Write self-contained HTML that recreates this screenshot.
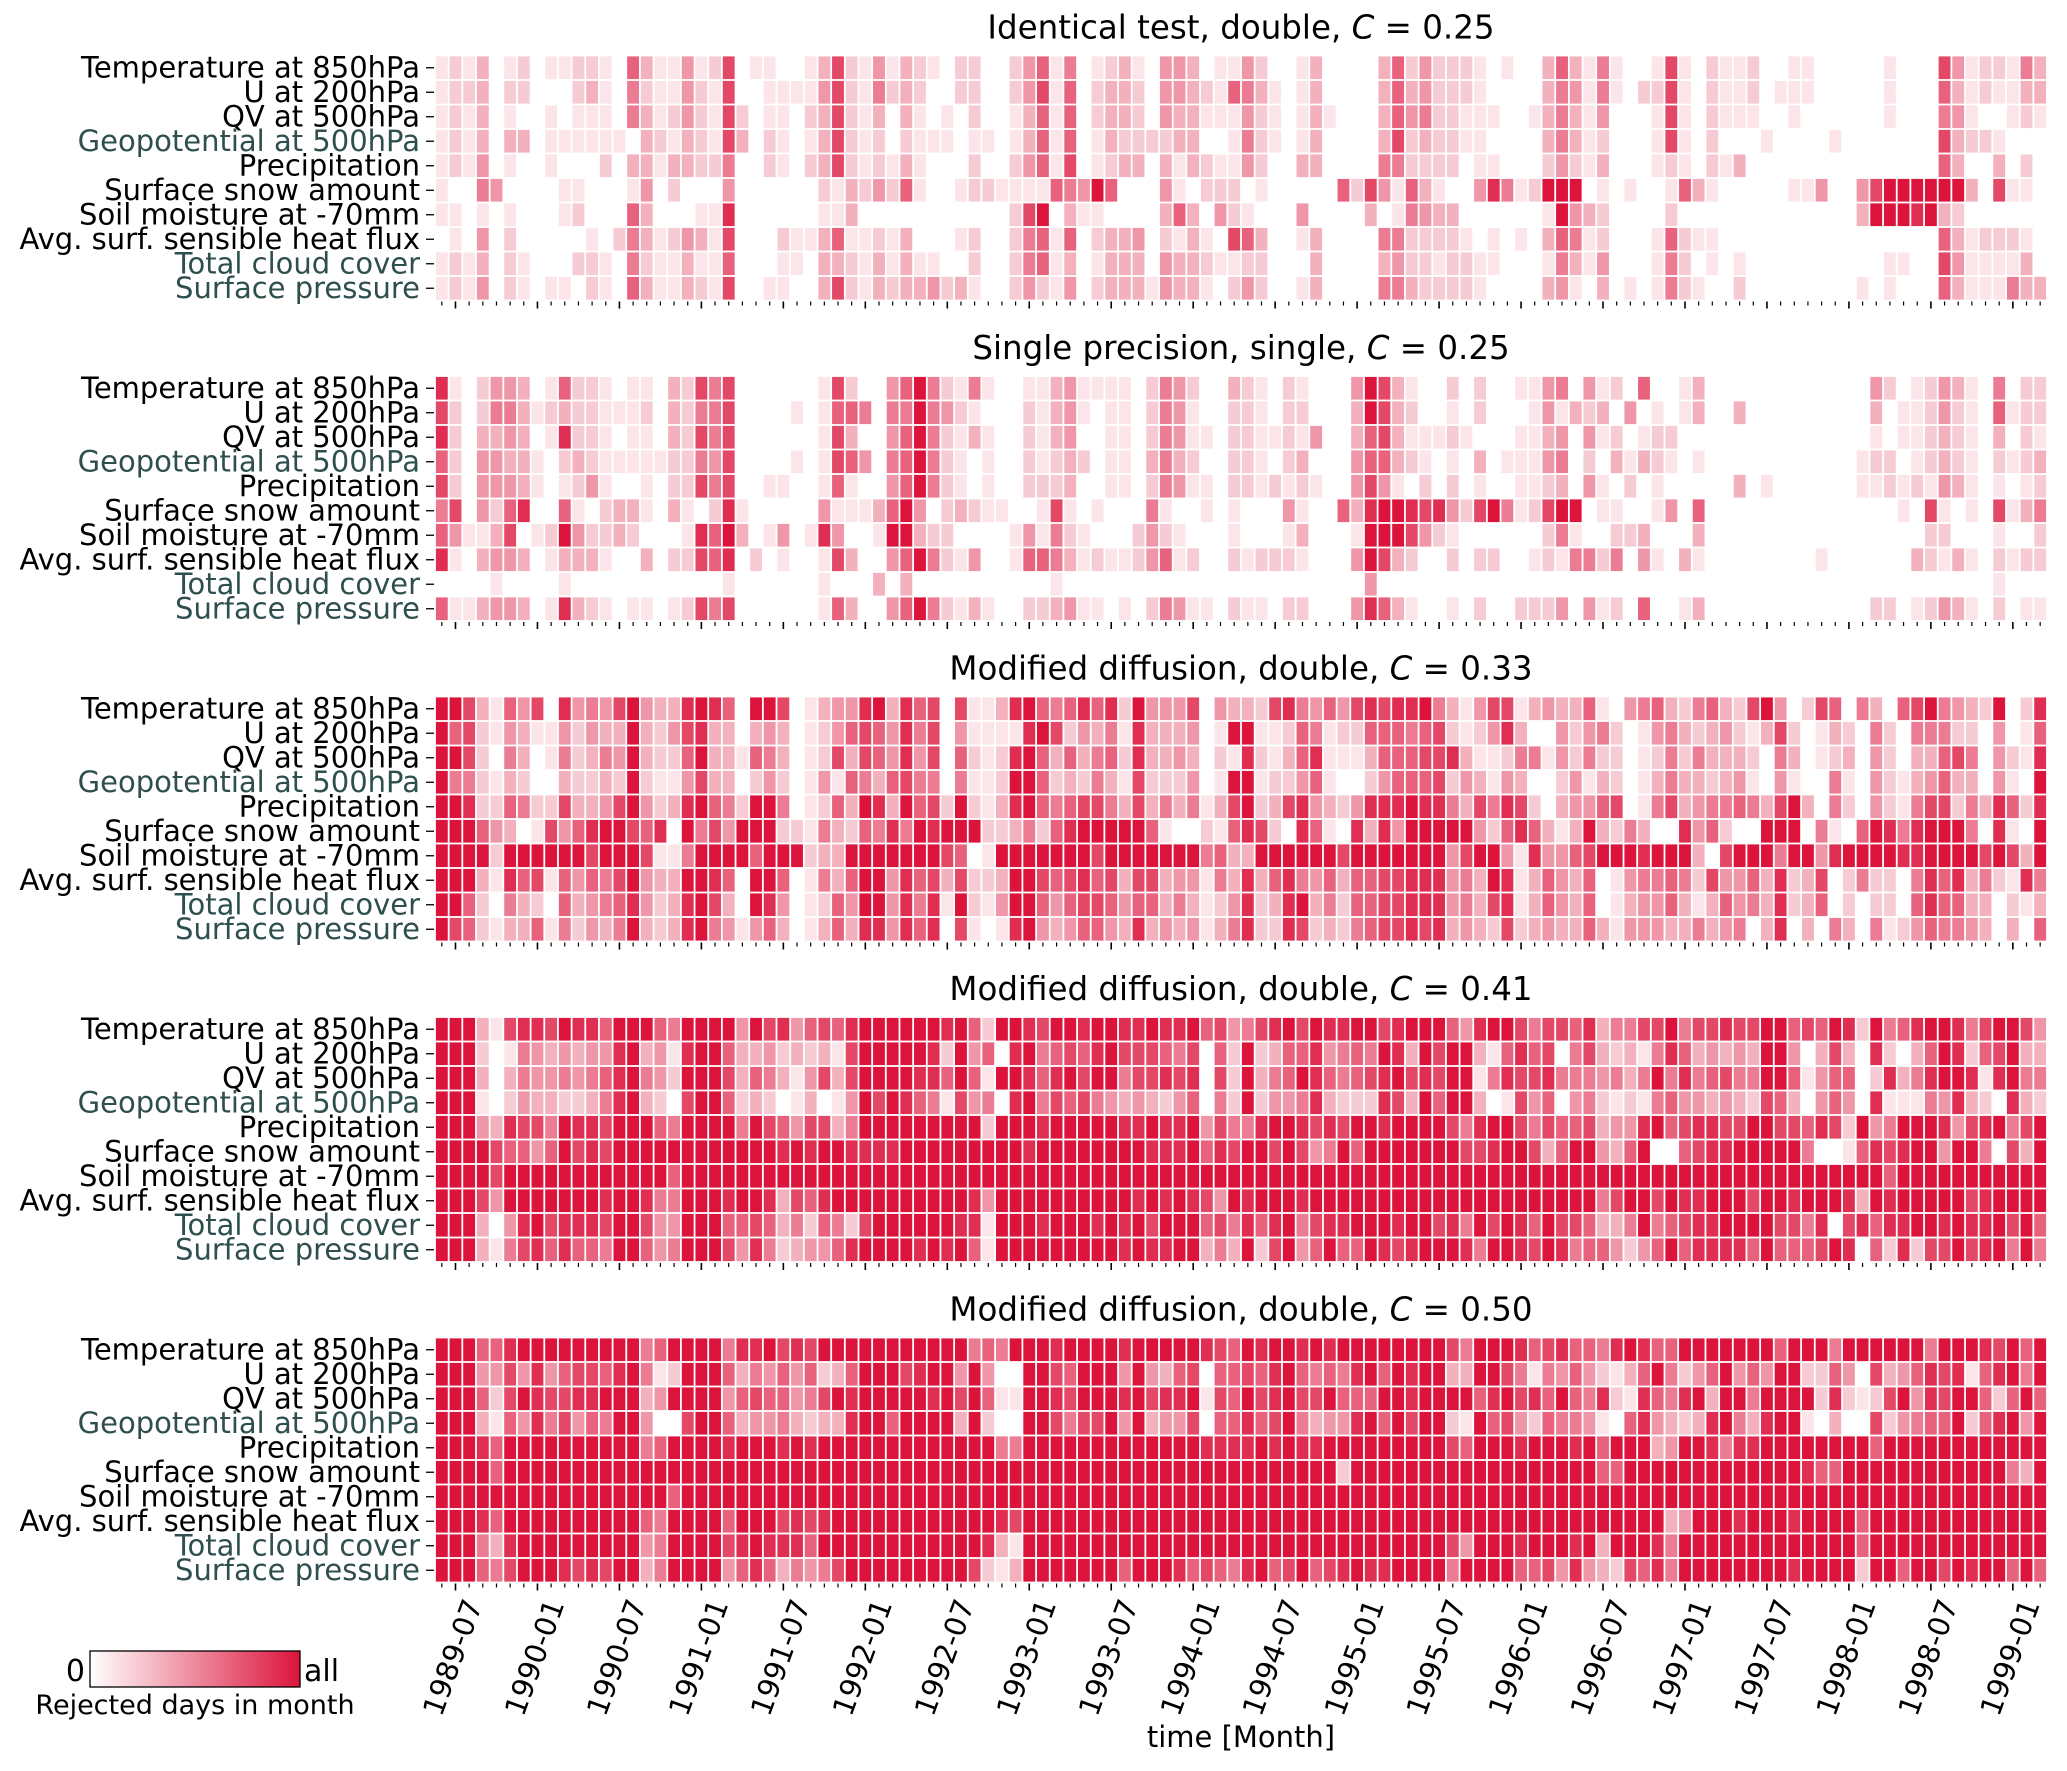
<!DOCTYPE html>
<html><head><meta charset="utf-8"><title>Rejected days heatmaps</title>
<style>
html,body{margin:0;padding:0;background:#fff;}
svg{display:block;font-family:"DejaVu Sans","Liberation Sans",sans-serif;}
</style></head>
<body>
<svg id="chart" width="2067" height="1771" viewBox="0 0 2067 1771" xmlns="http://www.w3.org/2000/svg"></svg>
<script>
const variables = ["Temperature at 850hPa","U at 200hPa","QV at 500hPa","Geopotential at 500hPa","Precipitation","Surface snow amount","Soil moisture at -70mm","Avg. surf. sensible heat flux","Total cloud cover","Surface pressure"];
const variableColors = ["#000","#000","#000","#2f4f4f","#000","#000","#000","#000","#2f4f4f","#2f4f4f"];
const panelTitles = ["Identical test, double, ","Single precision, single, ","Modified diffusion, double, ","Modified diffusion, double, ","Modified diffusion, double, "];
const panelC = ["0.25","0.25","0.33","0.41","0.50"];
const startYear = 1989, startMonth = 6, nMonths = 118;

const panel1Rows = [
"1213012011"+"2210631141"+"2701100137"+"2141321022"+"0024615012"+"310443011"+"4200130000"+"3624222101"+"0036315100"+"1710211200"+"1100000100"+"074122153",
"1223022000"+"2310521142"+"1700111147"+"2152320022"+"0024716023"+"320443216"+"5310130000"+"3634222100"+"0035415102"+"2710211201"+"1100000100"+"063121133",
"1213010010"+"1110531242"+"1720110237"+"2130310102"+"0013616023"+"320433111"+"4210131000"+"3645221110"+"0135314000"+"1710211100"+"1000000100"+"054100121",
"1213033011"+"1111032132"+"1730210137"+"2120211101"+"1013616013"+"222233001"+"5210130000"+"3723221100"+"0035312000"+"1710200010"+"0001000000"+"073221000",
"1214010010"+"0020331332"+"2500210237"+"2121310002"+"0024617012"+"330313211"+"4200330000"+"5522220110"+"0024213000"+"1210213000"+"0000000000"+"063003020",
"1005400001"+"1000140200"+"0400000021"+"3242610012"+"2111165496"+"000410222"+"0100000627"+"4163100485"+"1299901010"+"0163100000"+"1140047999"+"999307110",
"1101010001"+"2000630001"+"1800000011"+"3000000000"+"0027903110"+"000363042"+"1000400003"+"0154330000"+"0019432000"+"0200000000"+"0000039998"+"932000000",
"0104020000"+"0102531243"+"1700021136"+"1121300012"+"0025616023"+"340213107"+"6300130000"+"5522221010"+"1036512000"+"1621100000"+"0000000000"+"063122210",
"1213021000"+"2210521131"+"1600011033"+"2131311002"+"0025613013"+"330433211"+"2200030000"+"3422122110"+"0015314000"+"1520101000"+"0000000110"+"074111130",
"1214021011"+"0210631132"+"1700110037"+"2132334231"+"0024214023"+"331433102"+"4200130000"+"5532222100"+"0034103010"+"1521002000"+"0000010100"+"063111533"
];
const panel2Rows = [
"8102443016"+"2210110327"+"5700000017"+"2004695215"+"1001134111"+"102542003"+"2102100049"+"7310020200"+"1145041206"+"0013000000"+"0000004201"+"243105022",
"7202553123"+"2211120325"+"5700001016"+"6505595421"+"0002134101"+"102541002"+"2102200039"+"7320010200"+"0141323040"+"1013003000"+"0000003011"+"242106122",
"8203343018"+"2210110327"+"5700000017"+"3004695213"+"1002134001"+"102541102"+"2112140036"+"7311121000"+"1134041201"+"2200000000"+"0000001011"+"232103021",
"6204433102"+"3211111225"+"4700001017"+"6405695210"+"1002123201"+"103532002"+"2102300046"+"6321010301"+"1145020313"+"2101000000"+"0000012201"+"232102123",
"7204443101"+"2410010227"+"5700110016"+"1004695210"+"1002223001"+"102541102"+"2121210047"+"4102020100"+"1123041020"+"1000003010"+"0000011212"+"143101012",
"5704268006"+"1023310310"+"2810000041"+"1136940232"+"1100171010"+"005100101"+"0004100638"+"9987842795"+"1279901100"+"1406000000"+"0000000010"+"710107135",
"6411370129"+"4223200018"+"6930140184"+"0019932200"+"0014152100"+"024210001"+"0001300019"+"9974210000"+"0025100223"+"0003000000"+"0000000000"+"220001002",
"8103443013"+"3310030227"+"6802010017"+"3004695214"+"0016653121"+"124612002"+"1222100049"+"7320020220"+"0121552504"+"1031000000"+"0010000003"+"213102122",
"0000100001"+"0000000000"+"0100000010"+"0030300000"+"0000010000"+"000000000"+"0000000004"+"0000000000"+"0000000000"+"0000000000"+"0000000000"+"000001000",
"6113443018"+"3210110127"+"5700000016"+"3004695213"+"1002234110"+"102541102"+"1102200048"+"6310010200"+"2224041206"+"0013000000"+"0000002201"+"243102011"
];
const panel3Rows = [
"9973164708"+"4547943389"+"8609970134"+"4893867071"+"1389656868"+"294447043"+"3278546478"+"7889531477"+"1343361045"+"6325632794"+"0276053067"+"954329028",
"9672143114"+"2433932478"+"3303430124"+"6764857041"+"1118972435"+"183334019"+"9112651226"+"6656721248"+"3004245201"+"4532342137"+"2013205205"+"552204016",
"9972053015"+"2354932269"+"3316530127"+"3764847062"+"1289636356"+"283343021"+"8213681113"+"6667783112"+"5514252201"+"2525333205"+"3012304203"+"367504218",
"9552132003"+"2232921147"+"3302420141"+"6536755051"+"1299623253"+"172224019"+"9122461002"+"4666724314"+"3002413201"+"3533234104"+"1005104213"+"463304109",
"9982265227"+"3347942389"+"6529950126"+"3983967292"+"1389656775"+"373535137"+"9237843248"+"8898853758"+"7203446701"+"5734556537"+"9305204215"+"772538628",
"9996430174"+"6899768095"+"7499922153"+"2658598999"+"2235268999"+"996100216"+"8720861083"+"8499999426"+"8631393253"+"0084620099"+"9051069858"+"999508109",
"9999299999"+"9799971159"+"9996999233"+"9999999760"+"1999999979"+"999999563"+"3999999799"+"9999947994"+"1844679998"+"9993079995"+"9948999988"+"999979739",
"9993186716"+"4657943399"+"8609960153"+"6994867372"+"2399767867"+"377344153"+"8368546366"+"7788845398"+"1364360145"+"5652744638"+"2370252205"+"868352185",
"9962053206"+"3456842389"+"7309840126"+"4994858192"+"1499646776"+"466353124"+"8238935266"+"7788845378"+"1364360134"+"4631364538"+"2360202206"+"866330213",
"9762133615"+"2435932389"+"5414630136"+"3884868071"+"0189434664"+"383434135"+"8228723256"+"7787834327"+"2343363144"+"4335345038"+"0305305124"+"655430306"
];
const panel4Rows = [
"9993178879"+"8869996599"+"9949784676"+"8999999896"+"2998799899"+"889889674"+"5789798899"+"7899964899"+"7577683557"+"7957787799"+"6769829568"+"998579974",
"9992015434"+"3448934189"+"9633423231"+"7999998294"+"6089567689"+"777657062"+"9236684565"+"9839799316"+"8670573231"+"5863434399"+"4037308203"+"698267933",
"9993035445"+"4568954299"+"9736531473"+"7999988696"+"1998689799"+"577878072"+"9356986567"+"8978799158"+"7785554535"+"9585675599"+"6146602835"+"899818955",
"9991024332"+"2358932079"+"9623201301"+"4979865174"+"5089576754"+"343246052"+"9244583222"+"8739699301"+"7460452121"+"5644343276"+"3046408111"+"548320832",
"9994387759"+"8879996599"+"9959764773"+"5999999999"+"2999899999"+"889889475"+"5899878799"+"8999975899"+"7576673448"+"9678877997"+"7687294599"+"984789579",
"9999766469"+"7879999999"+"9999989899"+"8888999999"+"9998999999"+"998889687"+"9979745969"+"9999997789"+"9736994369"+"0067889999"+"9500168789"+"949950739",
"9999799999"+"9999999699"+"9999999999"+"9999999999"+"9999999999"+"999999999"+"9999999999"+"9999999999"+"9999999999"+"9999999999"+"9999999699"+"999999999",
"9997499999"+"9989985599"+"9899837689"+"9999999998"+"4999999999"+"989898749"+"8999899999"+"9999999999"+"9999995799"+"7988999799"+"8999839899"+"999789999",
"9993048978"+"8879974499"+"9667635265"+"2799999988"+"1999899989"+"897999675"+"8689578899"+"9899785979"+"8697763359"+"5678899997"+"7580786889"+"989889796",
"9993157868"+"6659964599"+"9748523446"+"8999989896"+"1999999999"+"898899353"+"9279469669"+"8789998599"+"8798566424"+"6968888696"+"6679806282"+"779789595"
];
const panel5Rows = [
"9996689999"+"9999956999"+"9588978799"+"9999999995"+"6599989999"+"899999876"+"9899898999"+"9999975999"+"8678665898"+"6699999996"+"9995999999"+"599987969",
"9994474846"+"7768951299"+"9635464623"+"6999789949"+"4009976999"+"494367066"+"7689656589"+"6989933997"+"5154642136"+"9524694649"+"9226407346"+"878168959",
"9996279877"+"8899934999"+"9467664579"+"8999998979"+"6119987999"+"897889176"+"9789779666"+"9989999689"+"7869658218"+"6589399599"+"9928212794"+"879962696",
"9993164857"+"4659940079"+"9634453233"+"8996999939"+"2009975779"+"493447066"+"8679534489"+"6979921967"+"4265541068"+"4323895389"+"9103007245"+"669268949",
"9998699999"+"9999956999"+"9899989899"+"9999999999"+"9559999999"+"999999888"+"8989889999"+"9999976999"+"8999896999"+"3499858899"+"9999996999"+"999999999",
"9999699999"+"9999999999"+"9999999999"+"9999999999"+"9999999999"+"999999999"+"9999999299"+"9999999999"+"9999996699"+"9999999999"+"9866999999"+"999999539",
"9999999999"+"9999999699"+"9999999999"+"9999999999"+"9999999999"+"999999999"+"9999999999"+"9999999999"+"9999999999"+"9999999999"+"9999999999"+"999999999",
"9998699999"+"9999965999"+"9699978789"+"9999999999"+"9879999999"+"999999999"+"9999999999"+"9999999999"+"9999999999"+"9349998999"+"8999969999"+"999999999",
"9995389999"+"9999945999"+"9789888699"+"9999999999"+"8319999999"+"999999999"+"9999999999"+"9999974999"+"8999893999"+"8599999999"+"9999969999"+"999999999",
"9996579998"+"7879935999"+"9468635457"+"9999999997"+"2139999999"+"699986765"+"8967967898"+"8999959999"+"6674843276"+"8599999999"+"8999929969"+"979899696"
];
const panels = [panel1Rows, panel2Rows, panel3Rows, panel4Rows, panel5Rows];

const NS = "http://www.w3.org/2000/svg";
const svg = document.getElementById("chart");
const X0 = 435, X1 = 2047, RH = 24.5;
const CW = (X1 - X0) / nMonths;
const panelTops = [55.5, 376, 696.5, 1017, 1337.5];
function xScale(c){ return X0 + c * CW; }
function yScale(p, r){ return panelTops[p] + r * RH; }
function color(v){
  const t = Math.max(0, Math.min(1, v / 9));
  const r = Math.round(255 - 35 * t), g = Math.round(255 - 235 * t), b = Math.round(255 - 195 * t);
  return "rgb(" + r + "," + g + "," + b + ")";
}
function el(tag, attrs, parent){
  const e = document.createElementNS(NS, tag);
  for (const k in attrs) e.setAttribute(k, attrs[k]);
  (parent || svg).appendChild(e);
  return e;
}
function monthLabel(c){
  const m0 = startMonth - 1 + c;
  const y = startYear + Math.floor(m0 / 12);
  const m = (m0 % 12) + 1;
  return y + "-" + (m < 10 ? "0" + m : "" + m);
}

panels.forEach((rows, p) => {
  const g = el("g", {});
  
  
  const t = el("text", {x: (X0 + X1) / 2, y: panelTops[p] - 17, "text-anchor": "middle", "font-size": "32.5", fill: "#000"}, g);
  
  
  t.appendChild(document.createTextNode(panelTitles[p]));
  const ts = el("tspan", {"font-style": "italic"}, t);
  ts.textContent = "C";
  t.appendChild(document.createTextNode(" = " + panelC[p]));
  rows.forEach((s, r) => {
    for (let c = 0; c < nMonths; c++) {
      const v = c < s.length ? parseInt(s[c], 10) : 0;
      if (!v) continue;
      const rect = el("rect", {x: (xScale(c) + 0.9).toFixed(2), y: (yScale(p, r) + 0.9).toFixed(2), width: (CW - 1.8).toFixed(2), height: (RH - 1.8).toFixed(2), fill: color(v)}, g);
      
      
    }
  });
  variables.forEach((name, r) => {
    const yc = yScale(p, r) + RH / 2;
    const tk = el("line", {x1: X0 - 9, x2: X0 - 1, y1: yc, y2: yc, stroke: "#000", "stroke-width": 1.3}, g);
    
    
    const lb = el("text", {x: X0 - 15, y: yc + 9.5, "text-anchor": "end", "font-size": "29", fill: variableColors[r]}, g);
    
    
    lb.textContent = name;
  });
  const yb = yScale(p, 10);
  for (let c = 0; c < nMonths; c++) {
    const major = (c - 1) % 6 === 0;
    const xc = xScale(c) + CW / 2;
    const tk = el("line", {x1: xc, x2: xc, y1: yb + 1, y2: yb + (major ? 8 : 5), stroke: "#000", "stroke-width": major ? 1.6 : 1.2}, g);
    
    
    if (major && p === 4) {
      const lx = xc + 7, ly = yb + 14;
      const lb = el("text", {x: lx, y: ly, "text-anchor": "end", "font-size": "29", fill: "#000", transform: "rotate(-70 " + lx + " " + ly + ")", "dominant-baseline": "hanging"}, g);
      
      
      lb.textContent = monthLabel(c);
    }
  }
});

const xt = el("text", {x: (X0 + X1) / 2, y: 1747, "text-anchor": "middle", "font-size": "29", fill: "#000"});


xt.textContent = "time [Month]";

const defs = el("defs", {});
const lg = el("linearGradient", {id: "cbgrad", x1: "0", x2: "1", y1: "0", y2: "0"}, defs);
el("stop", {offset: "0", "stop-color": color(0)}, lg);
el("stop", {offset: "1", "stop-color": color(9)}, lg);
const cb = el("rect", {x: 90, y: 1651, width: 210, height: 36, fill: "url(#cbgrad)", stroke: "#000", "stroke-width": 1.3});


const c0 = el("text", {x: 85, y: 1681, "text-anchor": "end", "font-size": "30", fill: "#000"});


c0.textContent = "0";
const c1 = el("text", {x: 304, y: 1681, "text-anchor": "start", "font-size": "30", fill: "#000"});


c1.textContent = "all";
const ct = el("text", {x: 195, y: 1714, "text-anchor": "middle", "font-size": "27", fill: "#000"});


ct.textContent = "Rejected days in month";
</script>
</body></html>
